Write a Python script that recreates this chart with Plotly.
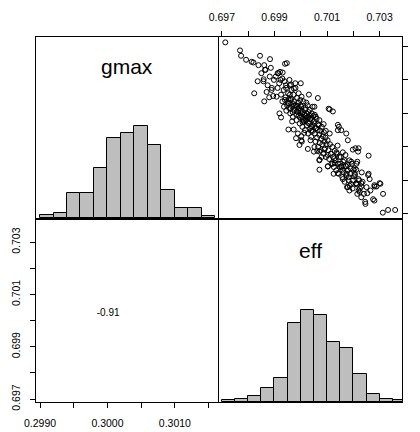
import plotly.graph_objects as go

# --- data ---
gmax_bin_left = [0.2990, 0.2992, 0.2994, 0.2996, 0.2998, 0.3000, 0.3002,
                 0.3004, 0.3006, 0.3008, 0.3010, 0.3012, 0.3014]
gmax_counts = [2, 3, 15, 15, 30, 48, 51, 55, 44, 17, 6, 6, 1]
gmax_bin_width = 0.0002

eff_bin_left = [0.6970, 0.6975, 0.6980, 0.6985, 0.6990, 0.6995, 0.7000,
                0.7005, 0.7010, 0.7015, 0.7020, 0.7025, 0.7030, 0.7035]
eff_counts = [1, 2, 4, 9, 15, 50, 58, 55, 38, 34, 18, 5, 2, 1]
eff_bin_width = 0.0005

eff_pts = [
    0.69713, 0.69769, 0.69773, 0.69792, 0.69813, 0.69820, 0.69845, 0.69839, 0.69861, 0.69864,
    0.69883, 0.69947, 0.69836, 0.69859, 0.69823, 0.69861, 0.69880, 0.69889, 0.69912, 0.69931,
    0.69919, 0.69925, 0.69953, 0.69973, 0.69982, 0.70004, 0.70002, 0.70106, 0.70122, 0.70141,
    0.70145, 0.70071, 0.70103, 0.70122, 0.70050, 0.70258, 0.70220, 0.70208, 0.70303, 0.70313,
    0.70275, 0.70246, 0.70312, 0.70332, 0.70359, 0.70288, 0.70280, 0.70258, 0.70250, 0.70220,
    0.70230, 0.70179, 0.70160, 0.70141, 0.70202, 0.70211, 0.70215, 0.70192, 0.70173, 0.70052,
    0.70065, 0.70031, 0.70000, 0.69963, 0.69944, 0.69923, 0.69921, 0.69940, 0.70224, 0.70253,
    0.70211, 0.70230, 0.70256, 0.70262, 0.70281, 0.70300, 0.70110, 0.70141, 0.70173, 0.70154,
    0.70179, 0.70198, 0.70218, 0.69989, 0.70002, 0.69995, 0.70027, 0.70052, 0.70071, 0.70090,
    0.70103, 0.70071, 0.70129, 0.70154, 0.70179, 0.70205, 0.70071, 0.70103,
    # upper-left part of the band
    0.69850, 0.69858, 0.69866, 0.69874, 0.69882, 0.69890, 0.69898, 0.69870, 0.69886, 0.69895,
    # dense core
    0.69905, 0.69912, 0.69918, 0.69925, 0.69930, 0.69935, 0.69940, 0.69944, 0.69948, 0.69908,
    0.69915, 0.69938,
    0.69952, 0.69955, 0.69958, 0.69960, 0.69963, 0.69965, 0.69968, 0.69970, 0.69972, 0.69975,
    0.69977, 0.69980, 0.69982, 0.69984, 0.69986, 0.69988, 0.69990, 0.69992, 0.69994, 0.69996,
    0.69998, 0.69957, 0.69967, 0.69979, 0.69993, 0.69961, 0.69974, 0.69987, 0.69999, 0.69953,
    0.70002, 0.70004, 0.70006, 0.70008, 0.70010, 0.70012, 0.70014, 0.70016, 0.70018, 0.70020,
    0.70022, 0.70024, 0.70026, 0.70028, 0.70030, 0.70032, 0.70034, 0.70036, 0.70038, 0.70040,
    0.70042, 0.70044, 0.70046, 0.70048, 0.70003, 0.70013, 0.70021, 0.70029, 0.70037, 0.70045,
    0.70009, 0.70033,
    0.69930, 0.69936, 0.69942, 0.69950, 0.69956, 0.69962, 0.69969, 0.69976, 0.69983, 0.69990,
    0.69997, 0.70005, 0.70011, 0.70019, 0.70027, 0.70035, 0.70043, 0.70050, 0.70058, 0.70066,
    0.69945, 0.69959, 0.69971, 0.69985, 0.69999, 0.70007, 0.70017, 0.70025, 0.70039, 0.70057,
    0.70052, 0.70054, 0.70056, 0.70058, 0.70060, 0.70062, 0.70064, 0.70066, 0.70068, 0.70070,
    0.70072, 0.70074, 0.70076, 0.70078, 0.70080, 0.70082, 0.70084, 0.70086, 0.70088, 0.70090,
    0.70092, 0.70094, 0.70096, 0.70098, 0.70053, 0.70063, 0.70071, 0.70079, 0.70087, 0.70095,
    0.70102, 0.70105, 0.70108, 0.70111, 0.70114, 0.70117, 0.70120, 0.70123, 0.70126, 0.70129,
    0.70132, 0.70135, 0.70138, 0.70141, 0.70144, 0.70147, 0.70110, 0.70125, 0.70140, 0.70148,
    0.70152, 0.70155, 0.70158, 0.70161, 0.70164, 0.70167, 0.70170, 0.70173, 0.70176, 0.70179,
    0.70182, 0.70185, 0.70188, 0.70191, 0.70194, 0.70197, 0.70160, 0.70185,
    0.70150, 0.70158, 0.70166, 0.70174, 0.70182, 0.70190, 0.70198, 0.70206, 0.70214, 0.70222,
    0.70170, 0.70186, 0.70200, 0.70128, 0.70136,
    0.70205, 0.70210, 0.70215, 0.70220, 0.70225, 0.70230, 0.70235, 0.70240, 0.70245, 0.70212,
    0.70232, 0.70265, 0.70280,
]
gmax_pts = [
    0.30156, 0.30144, 0.30136, 0.30130, 0.30127, 0.30126, 0.30136, 0.30122, 0.30122, 0.30115,
    0.30131, 0.30125, 0.30098, 0.30101, 0.30080, 0.30068, 0.30074, 0.30085, 0.30110, 0.30111,
    0.30050, 0.30044, 0.30026, 0.30026, 0.30013, 0.30008, 0.30016, 0.30057, 0.30053, 0.30025,
    0.30030, 0.29980, 0.29971, 0.29975, 0.29993, 0.29987, 0.29998, 0.29998, 0.29945, 0.29930,
    0.29922, 0.29915, 0.29902, 0.29906, 0.29906, 0.29941, 0.29943, 0.29960, 0.29940, 0.29935,
    0.29946, 0.29940, 0.29952, 0.29961, 0.29956, 0.29966, 0.29978, 0.29978, 0.29971, 0.30060,
    0.30073, 0.30078, 0.30095, 0.30093, 0.30088, 0.30100, 0.30112, 0.30124, 0.29933, 0.29931,
    0.29946, 0.29941, 0.29958, 0.29952, 0.29941, 0.29946, 0.30056, 0.30033, 0.30020, 0.30025,
    0.30010, 0.29996, 0.29993, 0.30020, 0.30010, 0.30003, 0.29997, 0.30000, 0.29993, 0.29996,
    0.29988, 0.29981, 0.29976, 0.29971, 0.29973, 0.29968, 0.29966, 0.29971,
    # upper-left part of the band
    0.30110, 0.30098, 0.30115, 0.30092, 0.30105, 0.30088, 0.30100, 0.30082, 0.30118, 0.30076,
    # dense core
    0.30105, 0.30088, 0.30095, 0.30078, 0.30102, 0.30085, 0.30070, 0.30092, 0.30062, 0.30075,
    0.30110, 0.30098,
    0.30080, 0.30065, 0.30092, 0.30050, 0.30072, 0.30085, 0.30060, 0.30045, 0.30078, 0.30068,
    0.30055, 0.30088, 0.30062, 0.30040, 0.30073, 0.30052, 0.30066, 0.30080, 0.30058, 0.30035,
    0.30070, 0.30100, 0.30038, 0.30095, 0.30047, 0.30058, 0.30087, 0.30061, 0.30054, 0.30071,
    0.30060, 0.30045, 0.30030, 0.30052, 0.30068, 0.30038, 0.30048, 0.30025, 0.30058, 0.30040,
    0.30050, 0.30032, 0.30062, 0.30020, 0.30044, 0.30035, 0.30055, 0.30028, 0.30042, 0.30015,
    0.30050, 0.30033, 0.30024, 0.30046, 0.30075, 0.30021, 0.30066, 0.30052, 0.30010, 0.30060,
    0.30042, 0.30047,
    0.30068, 0.30060, 0.30074, 0.30066, 0.30058, 0.30070, 0.30052, 0.30062, 0.30048, 0.30057,
    0.30044, 0.30050, 0.30040, 0.30046, 0.30036, 0.30042, 0.30030, 0.30038, 0.30028, 0.30034,
    0.30054, 0.30078, 0.30064, 0.30053, 0.30062, 0.30037, 0.30055, 0.30044, 0.30024, 0.30045,
    0.30035, 0.30020, 0.30008, 0.30028, 0.30042, 0.30014, 0.30025, 0.30000, 0.30032, 0.30018,
    0.30006, 0.30024, 0.29995, 0.30012, 0.30030, 0.30004, 0.30016, 0.29990, 0.30022, 0.30008,
    0.29998, 0.30014, 0.29985, 0.30004, 0.30048, 0.29994, 0.30040, 0.29985, 0.30034, 0.30024,
    0.30010, 0.29995, 0.29982, 0.30004, 0.29990, 0.29975, 0.30000, 0.29985, 0.29970, 0.29994,
    0.29980, 0.29965, 0.29990, 0.29975, 0.29960, 0.29985, 0.30020, 0.29960, 0.30002, 0.29970,
    0.29985, 0.29970, 0.29955, 0.29978, 0.29962, 0.29948, 0.29972, 0.29958, 0.29940, 0.29965,
    0.29950, 0.29935, 0.29960, 0.29945, 0.29975, 0.29938, 0.29992, 0.29980,
    0.29975, 0.29966, 0.29980, 0.29960, 0.29955, 0.29968, 0.29950, 0.29958, 0.29944, 0.29950,
    0.29988, 0.29942, 0.29966, 0.29983, 0.29992,
    0.29960, 0.29945, 0.29930, 0.29952, 0.29938, 0.29925, 0.29948, 0.29930, 0.29918, 0.29975,
    0.29962, 0.29935, 0.29920,
]

corr_text = "-0.91"
var_names = ["gmax", "eff"]

gmax_ticks = [0.2990, 0.2995, 0.3000, 0.3005, 0.3010, 0.3015]
gmax_ticktext = ["0.2990", "", "0.3000", "", "0.3010", ""]
eff_ticks = [0.697, 0.698, 0.699, 0.700, 0.701, 0.702, 0.703]
eff_ticktext = ["0.697", "", "0.699", "", "0.701", "", "0.703"]

# --- layout constants ---
# the page body has an 8px margin, so the figure is drawn 8px in from the window edge
PAGE_W, PAGE_H = 420, 432
OFF = 8
W, H = PAGE_W - OFF, PAGE_H - OFF
FONT = "Liberation Sans, Arial, Helvetica, sans-serif"
gmax_range = [0.29894, 0.30164]
eff_range = [0.69689, 0.70385]

def px_x(a, b):
    return [(a - OFF) / W, (b - OFF) / W]

def px_y(top, bottom):
    return [1 - (bottom - OFF) / H, 1 - (top - OFF) / H]

def paper_pt(x, y):
    return (x - OFF) / W, 1 - (y - OFF) / H

left_x, right_x = px_x(36, 218), px_x(219, 402)
top_y, bot_y = px_y(37, 218), px_y(220, 402)

hist_style = dict(marker=dict(color="#BEBEBE", line=dict(color="black", width=1)),
                  showlegend=False, hoverinfo="skip")

fig = go.Figure()
fig.add_trace(go.Bar(x=[v + gmax_bin_width / 2 for v in gmax_bin_left], y=gmax_counts,
                     width=gmax_bin_width, xaxis="x", yaxis="y", **hist_style))
fig.add_trace(go.Scatter(x=eff_pts, y=gmax_pts, mode="markers", xaxis="x2", yaxis="y2",
                         marker=dict(symbol="circle-open", size=5, color="black",
                                     line=dict(width=1)),
                         showlegend=False))
# correlation in the lower-left panel
fig.add_trace(go.Scatter(x=[0.30001], y=[0.70029], mode="text", text=[corr_text],
                         textfont=dict(family=FONT, size=10, color="black"),
                         xaxis="x3", yaxis="y3", showlegend=False, hoverinfo="skip"))
fig.add_trace(go.Bar(x=[v + eff_bin_width / 2 for v in eff_bin_left], y=eff_counts,
                     width=eff_bin_width, xaxis="x4", yaxis="y4", **hist_style))

box = dict(showline=True, mirror=True, linecolor="black", linewidth=1,
           showgrid=False, zeroline=False, automargin=False)
noticks = dict(showticklabels=False, ticks="")
tick_style = dict(ticks="outside", ticklen=5, tickwidth=1, tickcolor="black",
                  tickfont=dict(family=FONT, size=10.5, color="black"))

fig.update_layout(
    width=W, height=H,
    margin=dict(l=0, r=0, t=0, b=0, pad=0, autoexpand=False),
    paper_bgcolor="white", plot_bgcolor="white",
    bargap=0,
    font=dict(family=FONT, color="black"),
    # top-left: gmax histogram
    xaxis=dict(domain=left_x, range=gmax_range, anchor="y", **box, **noticks),
    yaxis=dict(domain=top_y, range=[0, 108.6], anchor="x", **box, **noticks),
    # top-right: scatter
    xaxis2=dict(domain=right_x, range=eff_range, anchor="y2", side="top",
                tickvals=eff_ticks, ticktext=eff_ticktext, ticklabelstandoff=6,
                **box, **tick_style),
    yaxis2=dict(domain=top_y, range=gmax_range, anchor="x2", side="right",
                tickvals=gmax_ticks, ticktext=gmax_ticktext, tickangle=-90,
                ticklabelstandoff=8, **box, **tick_style),
    # bottom-left: correlation
    xaxis3=dict(domain=left_x, range=gmax_range, anchor="y3",
                tickvals=gmax_ticks, ticktext=gmax_ticktext, ticklabelstandoff=6,
                **box, **tick_style),
    yaxis3=dict(domain=bot_y, range=eff_range, anchor="x3",
                tickvals=eff_ticks, ticktext=eff_ticktext, tickangle=-90,
                ticklabelstandoff=6, **box, **tick_style),
    # bottom-right: eff histogram
    xaxis4=dict(domain=right_x, range=eff_range, anchor="y4", **box, **noticks),
    yaxis4=dict(domain=bot_y, range=[0, 115.2], anchor="x4", **box, **noticks),
)

gx, gy = paper_pt(127, 66)
ex, ey = paper_pt(310.5, 251)
label_font = dict(family=FONT, size=21, color="black")
fig.add_annotation(text=var_names[0], x=gx, y=gy, xref="paper", yref="paper",
                   xanchor="center", yanchor="middle", showarrow=False, font=label_font)
fig.add_annotation(text=var_names[1], x=ex, y=ey, xref="paper", yref="paper",
                   xanchor="center", yanchor="middle", showarrow=False, font=label_font)

fig.write_html("out.html")
